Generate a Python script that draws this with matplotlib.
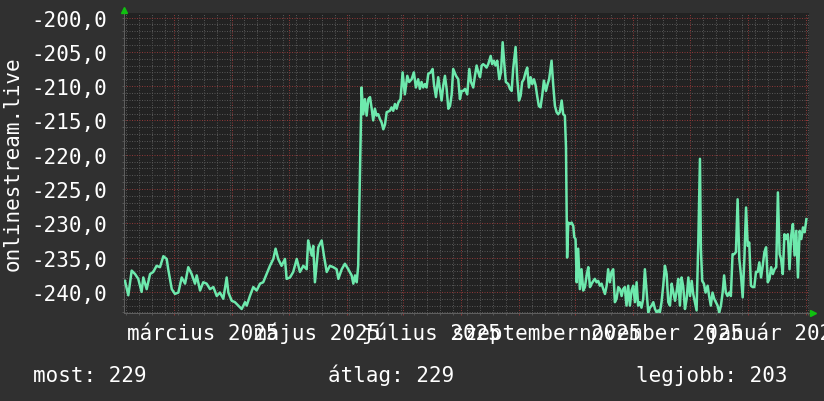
import datetime as dt
import matplotlib
matplotlib.use('Agg')
import matplotlib.pyplot as plt
import matplotlib.dates as mdates
from matplotlib.ticker import MultipleLocator, FuncFormatter
from matplotlib.transforms import blended_transform_factory

# kezdo idopont (a grafikon bal szele)
start = dt.datetime(2025, 2, 2, 4)
span_days = 365.6

# napok a kezdettol + helyezes (negalt)
days = [
    0.5, 2.3, 4.1, 5.9, 7.6, 9.4, 10.3, 12.1, 13.9, 15.6, 17.4, 19.2, 21.0, 22.8, 23.6,
    25.5, 27.2, 29.0, 30.8, 32.6, 34.3, 36.1, 37.9, 38.8, 40.6, 42.3, 44.1, 45.9, 47.7,
    49.5, 51.2, 53.0, 54.8, 55.7, 57.5, 59.2, 61.0, 62.8, 64.6, 65.5, 67.2, 69.0, 70.8,
    72.6, 74.3, 76.1, 77.9, 79.7, 80.9, 82.3, 84.1, 85.9, 86.8, 88.6, 90.3, 92.2, 93.9,
    95.7, 97.5, 98.3, 100.2, 101.0, 101.9, 103.7, 105.5, 106.7, 108.2, 109.9, 111.7,
    113.5, 114.4, 116.2, 117.9, 119.7, 121.5, 122.4, 123.3, 124.2, 125.0, 125.9, 126.8,
    127.7, 128.6, 129.5, 130.4, 131.3, 132.2, 133.0, 133.9, 134.8, 135.7, 136.6, 137.5,
    138.4, 139.3, 140.2, 141.9, 142.8, 143.7, 144.6, 145.5, 146.4, 147.6, 148.7, 149.9,
    151.2, 152.2, 153.5, 154.7, 155.8, 157.0, 157.9, 158.8, 159.7, 160.6, 161.5, 162.4,
    163.7, 164.7, 165.4, 166.5, 167.7, 168.6, 169.5, 170.4, 171.3, 172.2, 173.1, 174.0,
    174.9, 175.7, 177.2, 178.4, 179.3, 180.2, 181.1, 182.0, 183.2, 184.3, 185.2, 186.4,
    187.3, 188.2, 189.1, 190.0, 190.9, 191.7, 192.6, 193.5, 194.4, 195.7, 196.5, 197.4,
    198.3, 199.2, 200.3, 201.2, 202.1, 202.9, 203.8, 205.1, 206.0, 206.9, 207.7, 209.0,
    209.9, 210.8, 211.7, 212.5, 213.4, 214.3, 215.2, 216.1, 217.0, 217.9, 218.8, 219.7,
    220.5, 221.4, 222.3, 223.2, 224.1, 225.2, 226.1, 226.9, 228.2, 229.1, 230.0, 230.9,
    231.7, 232.6, 233.6, 234.4, 235.3, 235.9, 236.5, 237.1, 238.0, 238.9, 239.8, 240.3,
    241.0, 241.6, 242.4, 243.3, 244.2, 245.1, 246.0, 246.9, 247.8, 248.7, 249.6, 250.5,
    251.3, 252.2, 253.1, 254.0, 254.9, 255.8, 256.7, 257.6, 258.4, 259.3, 260.2, 261.1,
    262.0, 262.9, 263.8, 264.7, 265.6, 266.4, 267.3, 268.2, 269.1, 270.0, 270.9, 271.8,
    272.7, 273.6, 274.4, 275.3, 276.2, 277.1, 278.0, 278.9, 279.8, 280.7, 281.6, 282.5,
    283.4, 284.3, 285.2, 286.0, 286.9, 287.8, 288.7, 289.6, 290.5, 291.4, 292.3, 293.2,
    294.1, 295.0, 295.8, 296.7, 297.6, 298.5, 299.4, 300.3, 301.2, 302.1, 303.0, 303.8,
    304.7, 305.6, 306.5, 307.4, 307.9, 308.6, 309.5, 310.4, 311.5, 312.3, 313.2, 314.1,
    315.0, 315.9, 316.8, 317.7, 318.6, 319.5, 320.3, 321.2, 322.1, 323.0, 323.9, 324.8,
    325.7, 326.6, 327.5, 328.4, 329.3, 330.2, 331.1, 332.0, 332.9, 333.7, 334.6, 335.5,
    336.4, 337.3, 338.2, 339.1, 340.0, 340.9, 341.8, 342.7, 343.6, 344.5, 345.4, 346.3,
    347.2, 348.1, 349.0, 349.9, 350.7, 351.6, 352.5, 353.4, 354.3, 355.2, 356.1, 357.0,
    357.9, 358.8, 359.7, 360.6, 361.5, 362.4, 363.3, 364.2,
]
rank = [
    -238.4, -240.5, -236.9, -237.4, -238.1, -240.0, -237.9, -239.6, -237.4, -237.1, -236.2, -236.4, -234.8, -235.2, -236.7,
    -239.6, -240.3, -240.1, -237.9, -238.8, -236.4, -237.4, -238.8, -237.6, -239.8, -238.6, -238.8, -239.6, -239.3,
    -240.6, -240.1, -241.0, -237.9, -240.1, -241.3, -241.5, -242.0, -242.5, -241.5, -242.0, -240.6, -239.3, -239.8,
    -238.8, -238.6, -237.4, -236.2, -235.2, -233.7, -235.2, -236.2, -235.2, -238.1, -237.9, -237.1, -235.2, -237.1,
    -236.2, -236.7, -232.5, -234.7, -233.3, -238.6, -233.5, -232.5, -234.7, -237.1, -236.2, -236.4,
    -236.7, -238.1, -236.7, -235.9, -236.7, -237.6, -238.8, -237.6, -238.6, -236.2, -223.3, -210.2,
    -214.1, -211.9, -214.3, -211.9, -211.6, -213.3, -215.0, -213.3, -214.3, -214.1, -214.8, -215.3,
    -216.3, -215.6, -213.8, -213.6, -213.1, -213.6, -212.6, -213.3, -212.4, -211.9, -208.0, -211.2,
    -208.5, -209.4, -209.0, -208.0, -210.2, -209.0, -210.4, -209.4, -210.2, -209.7, -210.2, -208.2,
    -208.0, -207.5, -209.7, -211.6, -208.7, -210.4, -212.1, -209.9, -208.5, -210.4, -213.3, -212.9,
    -211.2, -207.5, -208.5, -209.0, -211.9, -210.7, -210.7, -210.4, -211.2, -207.5, -209.4, -210.2,
    -208.5, -207.0, -208.0, -208.7, -207.0, -206.8, -207.0, -207.3, -206.8, -205.6, -206.8, -206.3,
    -207.0, -206.3, -209.0, -208.0, -203.6, -206.5, -209.4, -209.7, -210.4, -210.7, -207.5, -204.3,
    -209.0, -212.1, -211.4, -209.4, -209.0, -208.0, -207.3, -210.2, -208.7, -209.7, -209.0, -209.9,
    -211.4, -212.9, -213.1, -211.4, -209.2, -210.7, -209.7, -209.0, -206.3, -209.9, -212.9, -213.8,
    -214.1, -213.8, -212.1, -214.1, -214.3, -218.9, -235.0, -229.9, -230.1, -229.9, -230.4, -232.0,
    -232.3, -238.6, -233.7, -239.6, -236.7, -239.8, -239.3, -237.6, -236.4, -239.3, -238.8, -238.4,
    -238.1, -238.6, -238.4, -239.1, -238.8, -239.6, -240.3, -239.1, -236.7, -238.6, -237.1, -236.7,
    -241.5, -241.0, -239.3, -239.6, -240.6, -239.6, -239.3, -242.0, -239.1, -242.0, -239.8, -239.1,
    -241.5, -238.6, -242.0, -241.5, -242.3, -241.0, -236.7, -239.8, -243.0, -242.3, -242.0, -241.5,
    -242.5, -243.0, -242.7, -243.0, -241.5, -239.1, -236.2, -237.4, -241.5, -242.0, -238.8, -240.1,
    -241.3, -239.8, -238.1, -242.0, -237.9, -239.3, -242.5, -241.0, -237.9, -240.6, -238.4, -240.3,
    -241.5, -242.7, -233.0, -220.6, -233.7, -238.4, -238.8, -240.1, -239.1, -240.6, -242.0, -240.1,
    -241.0, -241.5, -242.0, -243.0, -242.0, -240.1, -237.6, -240.1, -240.6, -240.1, -240.6, -234.5,
    -234.5, -234.2, -226.5, -235.2, -237.6, -240.8, -235.2, -227.7, -233.3, -232.8, -239.1, -239.3,
    -239.3, -237.1, -237.1, -235.7, -237.9, -236.2, -234.2, -233.5, -238.6, -238.1, -236.4, -237.4,
    -236.7, -236.4, -225.5, -234.5, -235.2, -237.4, -231.6, -232.3, -231.6, -236.7, -231.8, -230.1,
    -234.7, -231.1, -237.9, -231.1, -232.3, -230.6, -231.3, -229.4,
]

label_dates = [dt.datetime(2025, 3, 16), dt.datetime(2025, 5, 16), dt.datetime(2025, 7, 16),
               dt.datetime(2025, 9, 16), dt.datetime(2025, 11, 16), dt.datetime(2026, 1, 16)]
label_texts = ['március 2025', 'május 2025', 'július 2025',
               'szeptember 2025', 'november 2025', 'január 2026']
summary_names = ['most', 'átlag', 'legjobb']
summary_values = [229, 229, 203]

bg = '#303030'
plot_bg = '#222222'
line_color = '#6ee9ad'
minor_grid = '#545454'
major_grid = '#8a3636'
axis_color = '#5e5e5e'
arrow_color = '#10c010'
font = 'DejaVu Sans Mono'
fs = 15

times = [start + dt.timedelta(days=d) for d in days]

fig = plt.figure(figsize=(8.24, 4.02), dpi=100, facecolor=bg)
ax = fig.add_axes([124 / 824, 1 - 314 / 402, 685 / 824, 300 / 402])
ax.set_facecolor(plot_bg)

ax.plot(times, rank, color=line_color, lw=1.8, zorder=3)

ax.set_xlim(start, start + dt.timedelta(days=span_days))
ax.set_ylim(-243.08, -199.34)

# racs: heti / havi, 1 es 5 egyseg
ax.xaxis.set_major_locator(mdates.MonthLocator())
ax.xaxis.set_minor_locator(mdates.WeekdayLocator(byweekday=mdates.MO))
ax.yaxis.set_major_locator(MultipleLocator(5))
ax.yaxis.set_minor_locator(MultipleLocator(1))
ax.grid(which='minor', color=minor_grid, lw=0.72, ls=(0, (1, 1.5)), zorder=1)
ax.grid(which='major', color=major_grid, lw=0.72, ls=(0, (1, 1.5)), zorder=2)

ax.yaxis.set_major_formatter(FuncFormatter(lambda v, p: f'{v:.1f}'.replace('.', ',')))
ax.xaxis.set_major_formatter(FuncFormatter(lambda v, p: ''))
ax.tick_params(axis='y', which='both', length=1.5, width=0.72, color=minor_grid,
               labelsize=fs, labelcolor='white', pad=10.5)
ax.tick_params(axis='x', which='minor', length=1.5, width=0.72, color=minor_grid)
ax.tick_params(axis='x', which='major', length=1.5, width=0.72, color=major_grid)
for lab in ax.get_yticklabels():
    lab.set_fontfamily(font)

for side in ['top', 'right']:
    ax.spines[side].set_visible(False)
for side in ['left', 'bottom']:
    ax.spines[side].set_color(axis_color)
    ax.spines[side].set_linewidth(0.72)

# honap feliratok
tr = blended_transform_factory(ax.transData, ax.transAxes)
for d, t in zip(label_dates, label_texts):
    ax.text(d, -0.087, t, transform=tr, ha='center', va='baseline',
            color='white', fontsize=fs, family=font, clip_on=False)

# nyilak a tengelyek vegen
ax.plot([0], [1.01], marker='^', ms=5, color=arrow_color, transform=ax.transAxes, clip_on=False, zorder=5)
ax.plot([1.006], [0], marker='>', ms=5, color=arrow_color, transform=ax.transAxes, clip_on=False, zorder=5)

fig.text(13 / 824, 1 - 164 / 402, 'onlinestream.live', rotation=90, ha='center', va='center',
         color='white', fontsize=fs, family=font)

# also sor
for x, name, val in zip([33, 328, 636], summary_names, summary_values):
    fig.text(x / 824, 1 - 382 / 402, f'{name}: {val}', ha='left', va='baseline',
             color='white', fontsize=fs, family=font)

fig.savefig('out.png', dpi=100, facecolor=bg)
